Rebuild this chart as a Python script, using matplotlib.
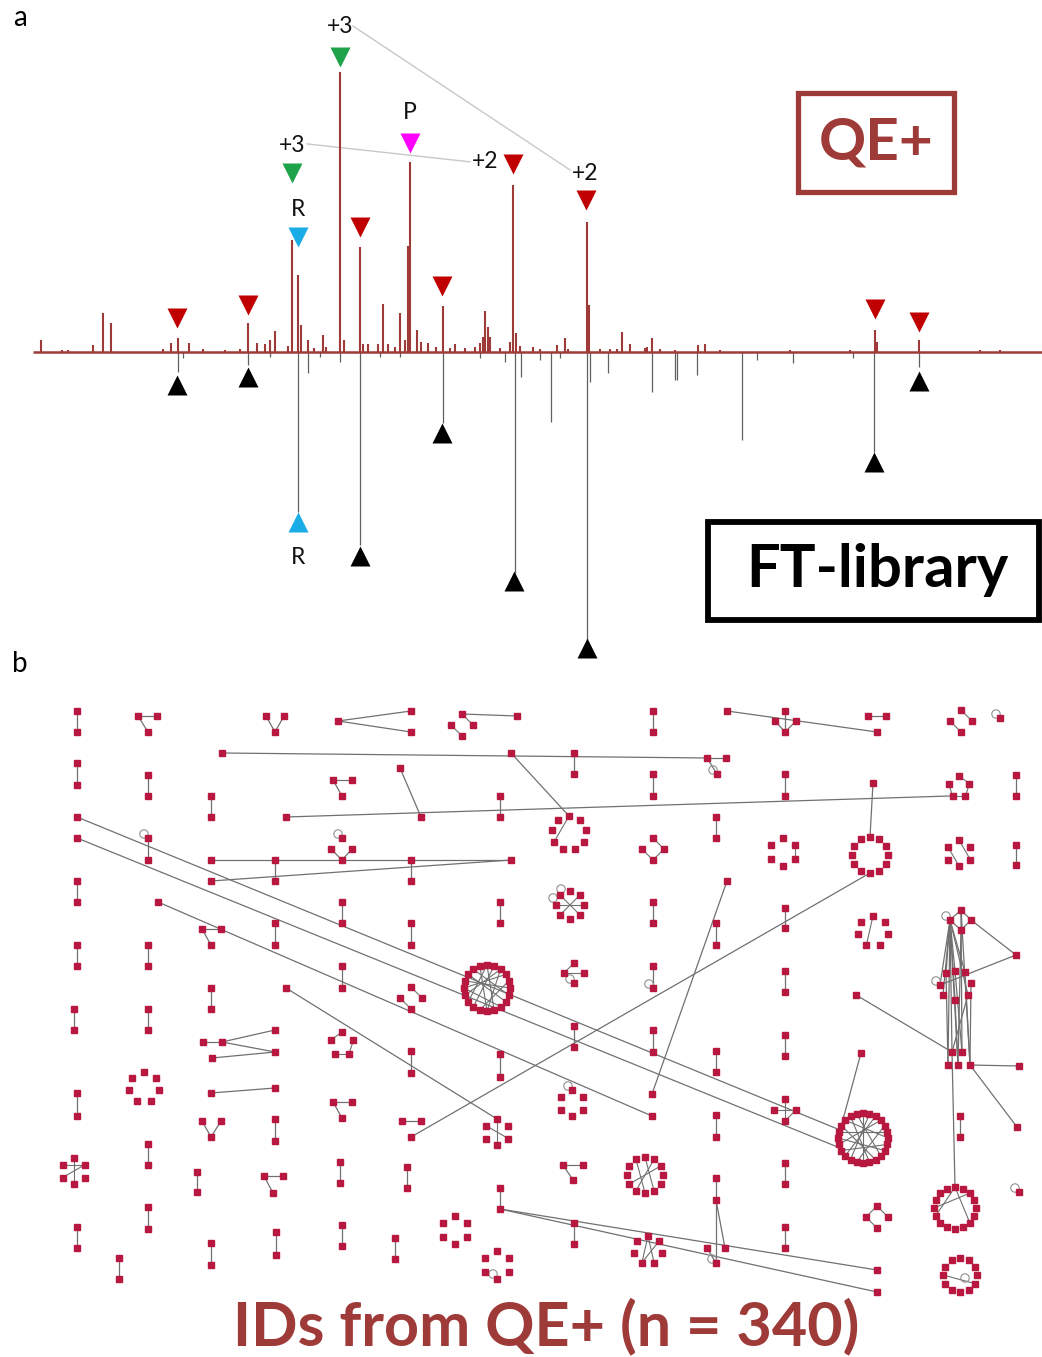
import numpy as np
import matplotlib
matplotlib.use("Agg")
import matplotlib.pyplot as plt
from matplotlib.patches import Rectangle, Circle

plt.rcParams['font.family'] = ['Lato', 'DejaVu Sans']

# ---------------- panel a : mirror spectrum ----------------
# upper spectrum (QE+), relative intensity
qe_mz = [41, 62, 68, 93, 103, 111, 163, 171, 178, 189, 203, 225, 240, 248,
         257, 265, 270, 275, 288, 292, 298, 301, 308, 314, 323, 326, 340, 344,
         360, 363, 368, 378, 383, 388, 395, 400, 405, 408, 410, 417, 421, 428,
         436, 443, 450, 455, 465, 475, 480, 483, 485, 488, 490, 500, 510, 513,
         516, 520, 533, 540, 557, 565, 568, 587, 589, 600, 610, 617, 622, 630,
         645, 647, 652, 660, 675, 698, 705, 720, 790, 850, 875, 877, 919, 980, 1000]
qe_int = [4.3, 0.7, 0.7, 2.5, 13.9, 10.4, 1.1, 3.2, 5.0, 3.2, 1.1, 0.7, 1.1, 10.4,
          3.2, 2.9, 4.3, 7.5, 2.1, 40.0, 27.5, 9.6, 4.3, 1.4, 6.1, 1.8, 100.0, 4.3,
          37.5, 2.9, 2.9, 2.9, 17.1, 2.9, 1.8, 13.9, 4.3, 38.0, 68.0, 7.9, 3.6, 3.2,
          1.8, 16.4, 1.4, 2.9, 1.4, 1.8, 3.2, 5.4, 14.6, 8.9, 5.4, 1.4, 3.6, 59.6,
          6.8, 2.1, 1.8, 1.1, 2.5, 5.0, 1.1, 46.4, 16.8, 1.1, 1.1, 1.1, 7.1, 2.9,
          1.4, 1.8, 5.0, 1.1, 0.7, 2.5, 2.9, 0.7, 0.7, 0.7, 7.9, 3.6, 4.3, 0.7, 0.7]

# lower spectrum (FT library), drawn downwards
lib_mz = [178, 183, 248, 270, 298, 308, 320, 340, 360, 380, 400, 443, 480, 505,
          515, 521, 540, 551, 560, 587, 590, 608, 652, 675, 677, 697, 742, 757,
          793, 853, 874, 919]
lib_int = [7.1, 2.0, 4.6, 1.8, 57.1, 7.5, 1.8, 3.6, 68.9, 1.8, 1.8, 25.4, 2.1, 3.6,
           78.9, 8.9, 2.9, 25.0, 2.1, 103.6, 10.7, 7.5, 14.3, 10.0, 10.0, 8.2, 31.4, 2.9,
           3.9, 2.1, 35.7, 5.4]

# matched-peak markers
up_mz = [177, 248, 360, 442, 513, 586, 875, 919, 292, 340, 410, 298]
up_y = [12.1, 16.8, 44.6, 23.6, 67.1, 54.3, 15.4, 10.7, 63.9, 105.4, 74.6, 41.1]
up_col = ['#c00000'] * 8 + ['#1fa34a', '#1fa34a', '#ff00ff', '#19ace6']
low_mz = [177, 248, 442, 514, 587, 874, 919, 360, 298]
low_y = [-11.8, -8.9, -28.9, -81.8, -105.7, -39.3, -10.4, -72.9, -60.7]
low_col = ['black'] * 8 + ['#19ace6']

lab_text = ['+3', '+3', 'P', 'R', '+2', '+2', 'R']
lab_mz = [340, 292, 410, 298, 485, 585, 298]
lab_y = [116.4, 73.9, 85.4, 50.7, 67.9, 63.9, -73.5]
conn = [(353, 116.4, 570, 65.0), (307, 74.3, 470, 67.9)]

red_brown = '#9e3a38'

fig = plt.figure(figsize=(10.42, 13.57), dpi=100)

# axes a : x in m/z-like units, y = relative intensity, baseline at 352 px
ax = fig.add_axes([0, 1 - 700 / 1357, 1, 700 / 1357])
ax.set_xlim(0, 1042)
ax.set_ylim(-124.3, 125.7)
ax.axis('off')

for x1, y1, x2, y2 in conn:
    ax.plot([x1, x2], [y1, y2], color='#c8c8c8', lw=1.0, zorder=1)
ax.vlines(lib_mz, 0, -np.array(lib_int), color='#606060', lw=0.9, zorder=2)
ax.vlines(qe_mz, 0, qe_int, color=red_brown, lw=1.5, zorder=3)
ax.hlines(0, 33, 1042, color=red_brown, lw=1.8, zorder=4)

for x, y, c in zip(up_mz, up_y, up_col):
    ax.plot(x, y, marker='v', ms=14, color=c, mec='none', zorder=5)
for x, y, c in zip(low_mz, low_y, low_col):
    ax.plot(x, y, marker='^', ms=14, color=c, mec='none', zorder=5)
for t, x, y in zip(lab_text, lab_mz, lab_y):
    ax.text(x, y, t, ha='center', va='center', fontsize=16.5, color='#111111', zorder=6)

# label boxes
ax.add_patch(Rectangle((798, 57.1), 156, 35.4, fill=False, ec=red_brown, lw=3.8, zorder=6))
ax.text(876, 74.5, 'QE+', ha='center', va='center', fontsize=42, fontweight='bold',
        color=red_brown)
ax.add_patch(Rectangle((708, -95.7), 331, 35.0, fill=False, ec='black', lw=4.2, zorder=6))
ax.text(877, -78.0, 'FT-library', ha='center', va='center', fontsize=43,
        fontweight='bold', color='black')

fig.text(20 / 1042, 1 - 18 / 1357, 'a', fontsize=20, ha='center', va='center')
fig.text(20 / 1042, 1 - 664 / 1357, 'b', fontsize=20, ha='center', va='center')

# ---------------- panel b : molecular network ----------------
# two-node components: x, y_top, y_bottom
dimers = [(77, 711, 732), (653, 711, 732),
          (77, 763, 785), (148, 775, 796), (211, 796, 817), (500, 796, 817),
          (653, 774, 796), (785, 774, 796), (1016, 775, 796), (574, 753, 774),
          (148, 838, 860), (275, 860, 881), (411, 860, 881), (716, 817, 838),
          (1016, 845, 865),
          (77, 881, 902), (342, 902, 923), (500, 902, 923), (275, 923, 945),
          (411, 923, 945), (653, 902, 923), (716, 923, 945), (785, 908, 928),
          (77, 945, 966), (148, 945, 966), (342, 966, 988), (211, 988, 1009),
          (653, 966, 988), (785, 971, 992), (74, 1009, 1030), (148, 1009, 1030),
          (411, 1051, 1073), (500, 1054, 1077), (574, 1026, 1047), (653, 1030, 1052),
          (716, 1051, 1072), (785, 1035, 1056), (77, 1093, 1116), (275, 1119, 1141),
          (716, 1115, 1137), (960, 1116, 1137),
          (148, 1144, 1165), (197, 1172, 1192), (340, 1162, 1183), (407, 1167, 1188),
          (500, 1188, 1209), (785, 1163, 1184),
          (148, 1207, 1229), (77, 1227, 1248), (119, 1258, 1279), (211, 1243, 1265),
          (276, 1232, 1255), (342, 1225, 1246), (395, 1238, 1259), (574, 1223, 1244),
          (785, 1227, 1248)]

# ring-shaped components: centre x, centre y, radius, node count
rings = [(569, 833, 17, 9), (653, 849, 11, 4), (783, 852, 14, 6), (870, 855, 18, 12),
         (959, 853, 13, 6), (873, 931, 15, 7), (487, 988, 23, 20), (144, 1087, 15, 7),
         (497, 1132, 13, 6), (74, 1171, 13, 6), (572, 1103, 13, 6), (455, 1230, 14, 6),
         (497, 1265, 14, 6), (863, 1138, 25, 24), (645, 1175, 18, 12), (648, 1250, 14, 7),
         (955, 1208, 21, 16), (960, 1275, 17, 12), (570, 905, 14, 8), (342, 1044, 12, 5),
         (877, 1217, 11, 4), (961, 721, 11, 4), (462, 725, 11, 4), (411, 998, 11, 4),
         (785, 1110, 11, 4), (959, 787, 11, 5), (574, 973, 10, 4)]

# edges inside rings: ring index, node i, node j
ring_chords = [(0, 0, 6), (1, 0, 1), (1, 1, 2), (1, 2, 3), (2, 1, 2), (4, 0, 2), (4, 5, 3),
               (5, 0, 4),
               (6, 0, 9), (6, 1, 12), (6, 2, 14), (6, 3, 15), (6, 5, 16), (6, 7, 17),
               (6, 0, 13), (6, 4, 11), (6, 6, 18), (6, 8, 15), (6, 10, 19), (6, 2, 10),
               (8, 0, 3), (8, 5, 2), (9, 0, 3), (9, 5, 1), (9, 4, 1),
               (13, 0, 12), (13, 2, 15), (13, 3, 17), (13, 5, 19), (13, 6, 21), (13, 1, 14),
               (13, 4, 13), (13, 7, 16), (13, 20, 10), (13, 22, 11), (13, 8, 18), (13, 9, 23),
               (14, 0, 5), (14, 1, 7), (14, 11, 6), (14, 2, 8),
               (15, 0, 3), (15, 1, 4), (15, 0, 4),
               (16, 0, 11), (16, 0, 6), (16, 2, 12), (17, 9, 4),
               (18, 7, 3), (18, 1, 5), (18, 6, 2),
               (19, 4, 0), (19, 1, 2), (19, 3, 2),
               (20, 0, 3), (20, 0, 1), (20, 3, 2), (21, 0, 1), (21, 3, 2),
               (22, 0, 1), (22, 3, 2), (23, 0, 1), (23, 3, 2),
               (24, 0, 2), (24, 1, 3), (24, 1, 2),
               (25, 0, 1), (25, 1, 2), (25, 2, 3), (25, 3, 4), (26, 0, 3), (26, 3, 1)]

# edges from a ring node to a free node: ring, node, x, y
ring_links = [(22, 0, 517, 716), (0, 0, 511, 753), (3, 0, 873, 783), (3, 6, 411, 1137),
              (8, 0, 286, 988), (13, 20, 861, 1053), (16, 0, 952, 1052), (25, 3, 286, 817)]

# other nodes
free_nodes = [(138, 716), (157, 716), (148, 732), (266, 716), (284, 716), (275, 732),
              (338, 721), (411, 711), (411, 732), (517, 716), (785, 711), (775, 721),
              (796, 721), (785, 732), (727, 711), (877, 732), (868, 716), (886, 716),
              (1000, 718),
              (222, 753), (707, 758), (726, 758), (717, 774), (511, 753), (333, 780),
              (352, 780), (342, 796), (400, 768), (421, 817), (286, 817), (873, 783),
              (77, 817), (77, 838), (211, 860), (342, 860), (511, 860), (211, 881),
              (331, 849), (352, 849), (342, 838), (158, 902), (202, 929), (221, 929),
              (211, 945), (727, 881), (286, 988), (856, 995), (203, 1042), (222, 1042),
              (275, 1030), (275, 1052), (212, 1058), (211, 1093), (275, 1088), (333, 1102),
              (352, 1102), (342, 1118), (402, 1121), (421, 1121), (411, 1137), (202, 1121),
              (221, 1121), (211, 1137), (264, 1176), (283, 1176), (273, 1193), (563, 1165),
              (583, 1165), (573, 1180), (716, 1178), (716, 1200), (725, 1248), (716, 1263),
              (707, 1248), (652, 1094), (652, 1116), (861, 1053), (877, 1270), (877, 1292),
              (1019, 1192),
              # dense cluster on the right
              (950, 920), (961, 910), (971, 920), (961, 930), (1016, 955), (940, 985),
              (946, 973), (955, 971), (965, 972), (971, 983), (968, 995), (955, 1000),
              (943, 995), (952, 1052), (962, 1052), (948, 1065), (958, 1065), (970, 1065),
              (1019, 1066), (1017, 1127)]

# other edges: x1, y1, x2, y2
free_edges = [(138, 716, 157, 716), (138, 716, 148, 732), (275, 732, 266, 716),
              (275, 732, 284, 716), (338, 721, 411, 711), (338, 721, 411, 732),
              (785, 711, 785, 732), (775, 721, 785, 732), (796, 721, 785, 732),
              (727, 711, 877, 732), (868, 716, 886, 716),
              (222, 753, 707, 758), (707, 758, 726, 758), (707, 758, 717, 774),
              (333, 780, 352, 780), (333, 780, 342, 796), (400, 768, 421, 817),
              (211, 860, 511, 860), (211, 881, 511, 860), (342, 860, 331, 849),
              (342, 860, 352, 849),
              (77, 817, 840, 1130), (77, 838, 845, 1150), (158, 902, 652, 1116),
              (202, 929, 221, 929), (202, 929, 211, 945), (727, 881, 652, 1094),
              (856, 995, 952, 1052),
              (203, 1042, 222, 1042), (222, 1042, 275, 1030), (222, 1042, 275, 1052),
              (212, 1058, 275, 1052), (211, 1093, 275, 1088),
              (333, 1102, 352, 1102), (333, 1102, 342, 1118), (402, 1121, 421, 1121),
              (211, 1137, 202, 1121), (211, 1137, 221, 1121),
              (264, 1176, 283, 1176), (264, 1176, 273, 1193),
              (563, 1165, 583, 1165), (563, 1165, 573, 1180),
              (716, 1178, 716, 1263), (716, 1200, 725, 1248), (707, 1248, 716, 1263),
              (500, 1209, 877, 1270), (500, 1209, 877, 1292),
              # dense cluster
              (950, 920, 961, 910), (961, 910, 971, 920), (971, 920, 961, 930),
              (961, 930, 950, 920), (961, 910, 961, 930),
              (950, 920, 940, 985), (950, 920, 946, 973), (950, 920, 955, 971),
              (950, 920, 965, 972), (950, 920, 968, 995), (950, 920, 955, 1000),
              (950, 920, 943, 995), (950, 920, 952, 1052), (950, 920, 948, 1065),
              (950, 920, 958, 1065), (961, 910, 962, 1052), (961, 910, 970, 1065),
              (961, 930, 958, 1065), (955, 971, 962, 1052), (965, 972, 970, 1065),
              (946, 973, 948, 1065), (955, 1000, 958, 1065), (971, 983, 970, 1065),
              (968, 995, 952, 1052), (971, 920, 1016, 955), (1016, 955, 940, 985),
              (970, 1065, 1019, 1066), (970, 1065, 1017, 1127)]

# nodes that carry a self-loop
loops = [(1000, 718), (148, 838), (342, 838), (717, 774), (565, 893), (557, 902),
         (653, 988), (574, 983), (950, 920), (940, 985), (572, 1090), (716, 1263),
         (1019, 1192), (497, 1278), (969, 1282)]

node_col = '#b8173f'
edge_col = '#707070'

bx = fig.add_axes([0, 0, 1, 707 / 1357])
bx.set_xlim(0, 1042)
bx.set_ylim(1357, 650)
bx.axis('off')


def ring_xy(cx, cy, r, n):
    th = np.pi / 2 - 2 * np.pi * np.arange(n) / n
    return cx + r * np.cos(th), cy - r * np.sin(th)


nx, ny = [], []
for x, y1, y2 in dimers:
    bx.plot([x, x], [y1, y2], color=edge_col, lw=0.9, zorder=1)
    nx += [x, x]
    ny += [y1, y2]

ring_pts = [ring_xy(*r) for r in rings]
for rx, ry in ring_pts:
    nx += list(rx)
    ny += list(ry)
for ri, i, j in ring_chords:
    rx, ry = ring_pts[ri]
    bx.plot([rx[i], rx[j]], [ry[i], ry[j]], color=edge_col, lw=0.8, zorder=1)
for ri, i, x, y in ring_links:
    rx, ry = ring_pts[ri]
    bx.plot([rx[i], x], [ry[i], y], color=edge_col, lw=0.9, zorder=1)

for x1, y1, x2, y2 in free_edges:
    bx.plot([x1, x2], [y1, y2], color=edge_col, lw=0.9, zorder=1)
for x, y in free_nodes:
    nx.append(x)
    ny.append(y)

for x, y in loops:
    bx.add_patch(Circle((x - 4, y - 4), 4.2, fill=False, ec='#909090', lw=0.8, zorder=1))

bx.plot(nx, ny, ls='none', marker='s', ms=5, color=node_col, mec=node_col, zorder=3)

bx.text(546, 1326, 'IDs from QE+ (n = 340)', ha='center', va='center', fontsize=44,
        fontweight='bold', color=red_brown)

fig.savefig('out.png', dpi=100)
